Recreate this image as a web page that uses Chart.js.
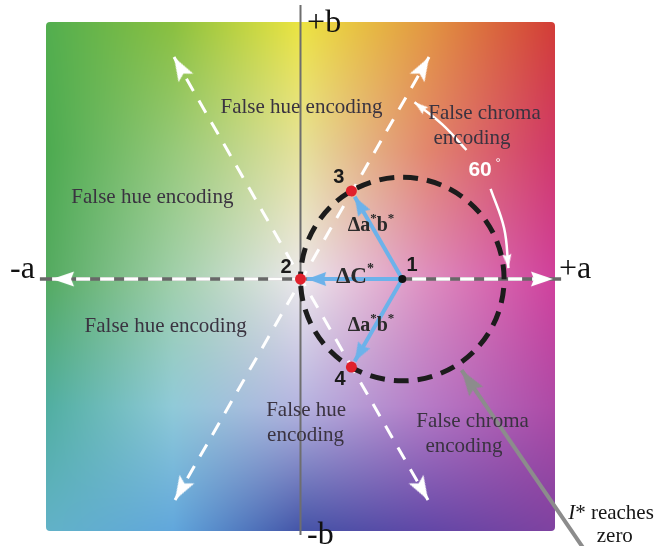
<!DOCTYPE html>
<html>
<head>
<meta charset="utf-8">
<script src="https://cdn.jsdelivr.net/npm/chart.js@4.4.1/dist/chart.umd.min.js"></script>
<style>
  html, body { margin: 0; padding: 0; background: #ffffff; }
  #wrap { width: 656px; height: 546px; position: relative; }
</style>
</head>
<body>
<div id="wrap"><canvas id="plane"></canvas></div>
<script>
// ---- a*b* coordinates of the four colour points ----
const POINT_NAMES = ['1', '2', '3', '4'];
const POINT_A = [40, 0, 20, 20];
const POINT_B = [0, 0, 34.6, -34.6];

// ---- axes ----
const AXIS_H_A = [-102.4, 102.4];   // grey a* axis line
const AXIS_H_B = [0, 0];
const AXIS_V_A = [0, 0];            // grey b* axis line
const AXIS_V_B = [107.7, -100.6];
const ARROW_H_A = [-97.6, 99.2];    // white dashed a* arrow
const ARROW_H_B = [0, 0];

// ---- dashed hue-boundary rays through the origin ----
const RAY_UP_A = [-49.3, 50.5];
const RAY_UP_B = [-86.8, 87.2];
const RAY_DOWN_A = [-49.7, 50.1];
const RAY_DOWN_B = [87.2, -86.8];

// ---- 60 degree marker (two pieces either side of its label) ----
const ANGLE_TOP_A = [44.8, 55.7, 65.2];
const ANGLE_TOP_B = [69.5, 60.8, 50.7];
const ANGLE_LOW_A = [74.7, 80.0, 81.7];
const ANGLE_LOW_B = [35.4, 20.0, 4.3];

// ---- pointer to where l* reaches zero ----
const POINTER_A = [112.0, 63.3];
const POINTER_B = [-107.0, -35.8];

// ---- colour plane control colours (rows: b* = 100 .. -100, cols: a* = -100 .. 100) ----
const PLANE_COLOURS = [
  [[82,174,79],  [138,192,64],  [236,228,66],  [226,150,66],  [210,60,55]],
  [[76,170,80],  [150,201,122], [230,226,156], [226,134,110], [208,56,106]],
  [[84,170,96],  [160,207,170], [236,232,236], [222,142,192], [208,64,156]],
  [[80,174,160], [144,202,216], [182,180,224], [182,122,198], [174,74,166]],
  [[98,178,200], [96,166,220],  [66,82,166],   [96,70,166],   [126,66,160]]
];

function planeColour(a, b) {
  let fx = (a + 100) / 50, fy = (100 - b) / 50;
  fx = Math.max(0, Math.min(4, fx)); fy = Math.max(0, Math.min(4, fy));
  const i = Math.min(3, Math.floor(fx)), j = Math.min(3, Math.floor(fy));
  const tx = fx - i, ty = fy - j;
  const c00 = PLANE_COLOURS[j][i], c10 = PLANE_COLOURS[j][i + 1];
  const c01 = PLANE_COLOURS[j + 1][i], c11 = PLANE_COLOURS[j + 1][i + 1];
  const out = [0, 0, 0];
  for (let k = 0; k < 3; k++) {
    const top = c00[k] + (c10[k] - c00[k]) * tx;
    const bot = c01[k] + (c11[k] - c01[k]) * tx;
    out[k] = top + (bot - top) * ty;
  }
  return out;
}

// ---- arrowhead sprites: tip at the sprite centre, pointing up ----
function arrowHead(colour, len, halfW, notch) {
  const size = Math.ceil(len * 2 + 4);
  const c = document.createElement('canvas');
  c.width = size; c.height = size;
  const g = c.getContext('2d');
  const cx = size / 2, cy = size / 2;
  g.fillStyle = colour;
  g.beginPath();
  g.moveTo(cx, cy);
  g.lineTo(cx + halfW, cy + len);
  g.lineTo(cx, cy + len - notch);
  g.lineTo(cx - halfW, cy + len);
  g.closePath();
  g.fill();
  return c;
}
const HEAD_WHITE = arrowHead('#ffffff', 24, 8.5, 5);
const HEAD_AXIS = arrowHead('#ffffff', 22, 7.5, 3);
const HEAD_BLUE = arrowHead('#6cb2ea', 19, 7, 2);
const HEAD_THIN = arrowHead('#ffffff', 14, 4.5, 2);
const HEAD_GREY = arrowHead('#8c8c8c', 26, 8.5, 4);

function pts(xs, ys) { return xs.map((x, i) => ({ x: x, y: ys[i] })); }

function headRotations(xs, ys, heads) {
  return xs.map((x, k) => {
    if (!heads.includes(k)) return 0;
    const n = k === 0 ? 1 : k - 1;
    const dx = x - xs[n], dy = ys[k] - ys[n];
    return 90 - Math.atan2(dy, dx) * 180 / Math.PI;
  });
}

function lineSet(id, xs, ys, o) {
  const heads = o.heads || [];
  const rot = headRotations(xs, ys, heads);
  return {
    id: id,
    data: pts(xs, ys),
    showLine: true,
    borderColor: o.colour,
    borderWidth: o.width,
    borderDash: o.dash || [],
    borderCapStyle: 'butt',
    tension: o.tension || 0,
    pointStyle: o.head || 'circle',
    pointRadius: ctx => heads.includes(ctx.dataIndex) ? 1 : 0,
    pointRotation: ctx => rot[ctx.dataIndex],
    clip: false,
    order: o.order
  };
}

// blue difference arrows run from point 1 to just short of each target
function shortTo(j, gap) {
  const dx = POINT_A[j] - POINT_A[0], dy = POINT_B[j] - POINT_B[0];
  const len = Math.hypot(dx, dy);
  return [POINT_A[j] - dx / len * gap, POINT_B[j] - dy / len * gap];
}
const BLUE_GAP = 2.6;
const toC = shortTo(1, BLUE_GAP), toUp = shortTo(2, BLUE_GAP), toDown = shortTo(3, BLUE_GAP);

const datasets = [
  lineSet('axisV', AXIS_V_A, AXIS_V_B, { colour: '#6e6e6e', width: 2, order: 100 }),
  lineSet('axisH', AXIS_H_A, AXIS_H_B, { colour: '#686868', width: 3.5, order: 99 }),
  lineSet('arrowH', ARROW_H_A, ARROW_H_B, { colour: '#ffffff', width: 3.5, dash: [14, 10], heads: [0, 1], head: HEAD_AXIS, order: 98 }),
  lineSet('rayUp', RAY_UP_A, RAY_UP_B, { colour: '#ffffff', width: 3, dash: [14, 11], heads: [0, 1], head: HEAD_WHITE, order: 97 }),
  lineSet('rayDown', RAY_DOWN_A, RAY_DOWN_B, { colour: '#ffffff', width: 3, dash: [14, 11], heads: [0, 1], head: HEAD_WHITE, order: 96 }),
  lineSet('angleTop', ANGLE_TOP_A, ANGLE_TOP_B, { colour: '#ffffff', width: 2.5, tension: 0.4, heads: [0], head: HEAD_THIN, order: 60 }),
  lineSet('angleLow', ANGLE_LOW_A, ANGLE_LOW_B, { colour: '#ffffff', width: 2.5, tension: 0.4, heads: [2], head: HEAD_THIN, order: 59 }),
  lineSet('pointer', POINTER_A, POINTER_B, { colour: '#8c8c8c', width: 4, heads: [1], head: HEAD_GREY, order: 50 }),
  lineSet('dC', [POINT_A[0], toC[0]], [POINT_B[0], toC[1]], { colour: '#6cb2ea', width: 4, heads: [1], head: HEAD_BLUE, order: 30 }),
  lineSet('dUp', [POINT_A[0], toUp[0]], [POINT_B[0], toUp[1]], { colour: '#6cb2ea', width: 4, heads: [1], head: HEAD_BLUE, order: 29 }),
  lineSet('dDown', [POINT_A[0], toDown[0]], [POINT_B[0], toDown[1]], { colour: '#6cb2ea', width: 4, heads: [1], head: HEAD_BLUE, order: 28 }),
  {
    id: 'points',
    data: pts(POINT_A, POINT_B),
    showLine: false,
    pointStyle: 'circle',
    pointRadius: [4, 5.5, 5.5, 5.5],
    pointBackgroundColor: ['#111111', '#e0202c', '#e0202c', '#e0202c'],
    pointBorderWidth: 0,
    clip: false,
    order: 10
  }
];

// ---- text annotations (positions in a*, b* units) ----
const SERIF = '"Liberation Serif", "DejaVu Serif", serif';
const SANS = '"Liberation Sans", Arial, sans-serif';
const NOTE_INK = '#3a3340';
const NOTES = [
  { a: 0.4, b: 67.6, parts: [{ t: 'False hue encoding', f: `21px ${SERIF}` }], colour: NOTE_INK },
  { a: 72.3, b: 65.2, parts: [{ t: 'False chroma', f: `21px ${SERIF}` }], colour: NOTE_INK },
  { a: 67.4, b: 55.4, parts: [{ t: 'encoding', f: `21px ${SERIF}` }], colour: NOTE_INK },
  { a: -58.2, b: 32.2, parts: [{ t: 'False hue encoding', f: `21px ${SERIF}` }], colour: NOTE_INK },
  { a: -53.0, b: -18.8, parts: [{ t: 'False hue encoding', f: `21px ${SERIF}` }], colour: NOTE_INK },
  { a: 2.2, b: -51.5, parts: [{ t: 'False hue', f: `21px ${SERIF}` }], colour: NOTE_INK },
  { a: 2.0, b: -61.3, parts: [{ t: 'encoding', f: `21px ${SERIF}` }], colour: NOTE_INK },
  { a: 67.6, b: -55.8, parts: [{ t: 'False chroma', f: `21px ${SERIF}` }], colour: NOTE_INK },
  { a: 64.2, b: -65.8, parts: [{ t: 'encoding', f: `21px ${SERIF}` }], colour: NOTE_INK },

  { a: 21.4, b: 0.8, parts: [{ t: 'ΔC', f: `bold 23px ${SERIF}` }, { t: '*', f: `bold 14px ${SERIF}`, dy: -8 }], colour: '#2a2a2a' },
  { a: 27.7, b: 20.8, parts: [{ t: 'Δa', f: `bold 20px ${SERIF}` }, { t: '*', f: `bold 13px ${SERIF}`, dy: -7 }, { t: 'b', f: `bold 20px ${SERIF}` }, { t: '*', f: `bold 13px ${SERIF}`, dy: -7 }], colour: '#2a2a2a' },
  { a: 27.7, b: -18.5, parts: [{ t: 'Δa', f: `bold 20px ${SERIF}` }, { t: '*', f: `bold 13px ${SERIF}`, dy: -7 }, { t: 'b', f: `bold 20px ${SERIF}` }, { t: '*', f: `bold 13px ${SERIF}`, dy: -7 }], colour: '#2a2a2a' },

  { a: 43.8, b: 5.5, parts: [{ t: POINT_NAMES[0], f: `bold 20px ${SANS}` }], colour: '#1a1a1a' },
  { a: -5.7, b: 4.7, parts: [{ t: POINT_NAMES[1], f: `bold 20px ${SANS}` }], colour: '#1a1a1a' },
  { a: 15.1, b: 40.1, parts: [{ t: POINT_NAMES[2], f: `bold 20px ${SANS}` }], colour: '#1a1a1a' },
  { a: 15.5, b: -39.3, parts: [{ t: POINT_NAMES[3], f: `bold 20px ${SANS}` }], colour: '#1a1a1a' },

  { a: 72.3, b: 42.8, parts: [{ t: '60', f: `bold 21px ${SANS}` }, { t: ' °', f: `13px ${SANS}`, dy: -7 }], colour: '#ffffff' },

  { a: -114.1, b: 0.4, align: 'left', base: 'alphabetic', parts: [{ t: '-a', f: `32px ${SERIF}` }], colour: '#111111' },
  { a: 101.6, b: 0.4, align: 'left', base: 'alphabetic', parts: [{ t: '+a', f: `32px ${SERIF}` }], colour: '#111111' },
  { a: 2.6, b: 97.1, align: 'left', base: 'alphabetic', parts: [{ t: '+b', f: `32px ${SERIF}` }], colour: '#111111' },
  { a: 2.6, b: -104.1, align: 'left', base: 'alphabetic', parts: [{ t: '-b', f: `32px ${SERIF}` }], colour: '#111111' },

  { a: 122.0, b: -92.3, parts: [{ t: 'I', f: `italic 21px ${SERIF}` }, { t: '* reaches', f: `21px ${SERIF}` }], colour: '#161616' },
  { a: 123.5, b: -101.0, parts: [{ t: 'zero', f: `21px ${SERIF}` }], colour: '#161616' }
];

function drawParts(ctx, note, x, y) {
  ctx.textBaseline = note.base || 'middle';
  ctx.textAlign = 'left';
  let w = 0;
  note.parts.forEach(p => { ctx.font = p.f; w += ctx.measureText(p.t).width; });
  let cx = note.align === 'left' ? x : x - w / 2;
  ctx.fillStyle = note.colour;
  note.parts.forEach(p => {
    ctx.font = p.f;
    ctx.fillText(p.t, cx, y + (p.dy || 0));
    cx += ctx.measureText(p.t).width;
  });
}

let planeImage = null;
const planePlugin = {
  id: 'planeBackground',
  beforeDatasetsDraw(chart) {
    const { ctx, chartArea: ar, scales } = chart;
    const xs = scales.x, ys = scales.y;
    const w = Math.round(ar.right - ar.left), h = Math.round(ar.bottom - ar.top);
    if (!planeImage) {
      const off = document.createElement('canvas');
      off.width = w; off.height = h;
      const g = off.getContext('2d');
      const img = g.createImageData(w, h);
      for (let py = 0; py < h; py++) {
        const b = ys.getValueForPixel(ar.top + py + 0.5);
        for (let px = 0; px < w; px++) {
          const a = xs.getValueForPixel(ar.left + px + 0.5);
          const c = planeColour(a, b);
          const k = (py * w + px) * 4;
          img.data[k] = c[0]; img.data[k + 1] = c[1]; img.data[k + 2] = c[2]; img.data[k + 3] = 255;
        }
      }
      g.putImageData(img, 0, 0);
      planeImage = off;
    }
    ctx.save();
    ctx.beginPath();
    ctx.roundRect(ar.left, ar.top, w, h, 4);
    ctx.clip();
    ctx.drawImage(planeImage, ar.left, ar.top);
    ctx.restore();
  }
};

// dashed circle of constant distance around point 1, drawn above the white rays
const circlePlugin = {
  id: 'hueCircle',
  afterDatasetDraw(chart, args) {
    if (chart.data.datasets[args.index].id !== 'rayDown') return;
    const { ctx, scales } = chart;
    const cx = scales.x.getPixelForValue(POINT_A[0]);
    const cy = scales.y.getPixelForValue(POINT_B[0]);
    const r = Math.hypot(POINT_A[1] - POINT_A[0], POINT_B[1] - POINT_B[0]);
    const rp = Math.abs(scales.x.getPixelForValue(r) - scales.x.getPixelForValue(0));
    ctx.save();
    ctx.strokeStyle = '#1c1c1c';
    ctx.lineWidth = 5;
    ctx.setLineDash([15, 9]);
    ctx.lineDashOffset = 7.5;
    ctx.beginPath();
    ctx.arc(cx, cy, rp, Math.PI, 3 * Math.PI);
    ctx.stroke();
    ctx.restore();
  }
};

const notesPlugin = {
  id: 'notes',
  afterDatasetsDraw(chart) {
    const { ctx, scales } = chart;
    ctx.save();
    NOTES.forEach(n => drawParts(ctx, n, scales.x.getPixelForValue(n.a), scales.y.getPixelForValue(n.b)));
    ctx.restore();
  }
};

new Chart(document.getElementById('plane'), {
  type: 'scatter',
  data: { datasets: datasets },
  options: {
    responsive: true,
    maintainAspectRatio: false,
    animation: false,
    events: [],
    layout: { padding: { left: 46, right: 101, top: 22, bottom: 15 } },
    scales: {
      x: { type: 'linear', min: -100, max: 100, display: false },
      y: { type: 'linear', min: -99, max: 101, display: false }
    },
    plugins: { legend: { display: false }, tooltip: { enabled: false } }
  },
  plugins: [planePlugin, circlePlugin, notesPlugin]
});
</script>
</body>
</html>
